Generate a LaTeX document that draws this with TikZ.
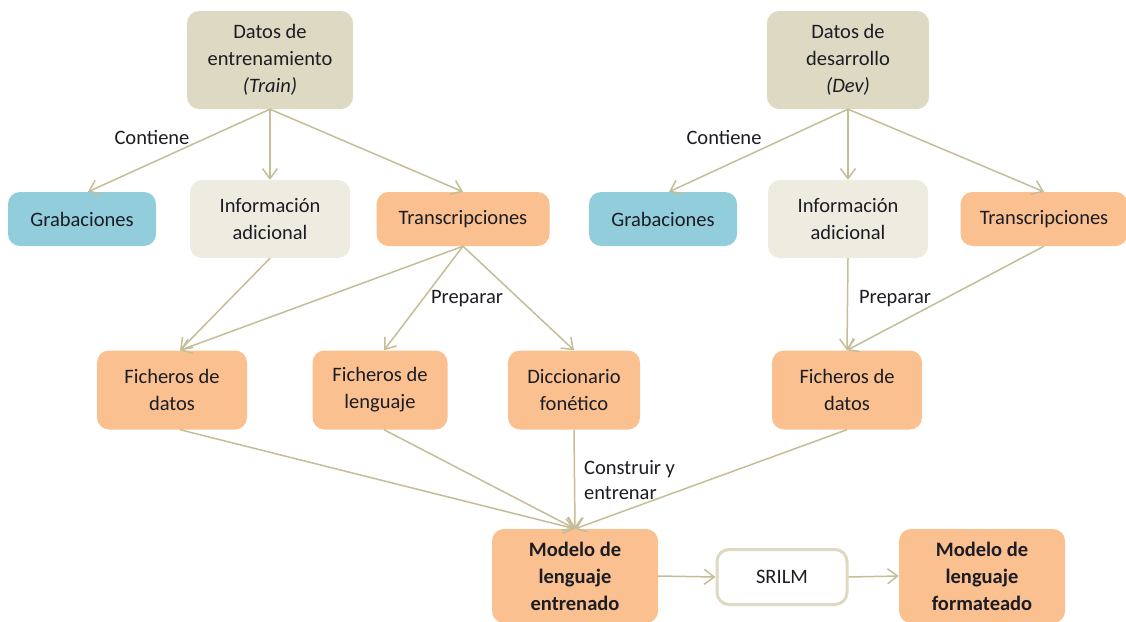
\documentclass[tikz,border=0pt]{standalone}
\usepackage{fontspec}
\setmainfont{Carlito}
\usetikzlibrary{arrows.meta}
\definecolor{beige}{RGB}{221,217,195}
\definecolor{cream}{RGB}{238,236,225}
\definecolor{peach}{RGB}{250,192,144}
\definecolor{skyblue}{RGB}{146,205,220}
\definecolor{linktan}{RGB}{196,189,151}
\definecolor{ink}{RGB}{28,28,36}
\tikzset{
  box/.style={rounded corners=12pt, align=center, text=ink, inner sep=0pt,
    font=\fontsize{20.5}{27}\selectfont},
  databox/.style={box, fill=beige},
  infobox/.style={box, fill=cream},
  filebox/.style={box, fill=peach},
  audiobox/.style={box, fill=skyblue},
  toolbox/.style={box, fill=white, draw=beige, line width=3pt},
  boldtext/.style={font=\fontsize{20.5}{27}\selectfont\bfseries},
  link/.style={draw=linktan, line width=1.5pt,
    -{Straight Barb[length=10pt,width=15pt,line width=1.5pt]}},
  note/.style={text=ink, font=\fontsize{20.5}{25}\selectfont, inner sep=0pt}
}
\begin{document}
\begin{tikzpicture}[x=1pt,y=-1pt]
\useasboundingbox (0,0) rectangle (1126,621);
\clip (0,0) rectangle (1126,621);

% training branch
\node[databox, minimum width=166pt, minimum height=98pt] (train) at (270,60)
  {Datos de\\entrenamiento\\\textit{(Train)}};
\node[audiobox, minimum width=148pt, minimum height=54pt] (grabL) at (82,219) {Grabaciones};
\node[infobox, minimum width=160pt, minimum height=78pt] (infoL) at (270,219) {Información\\adicional};
\node[filebox, minimum width=173pt, minimum height=54pt] (transL) at (463,219) {Transcripciones};

% development branch
\node[databox, minimum width=162pt, minimum height=98pt] (dev) at (848,60)
  {Datos de\\desarrollo\\\textit{(Dev)}};
\node[audiobox, minimum width=148pt, minimum height=54pt] (grabR) at (663,219) {Grabaciones};
\node[infobox, minimum width=160pt, minimum height=78pt] (infoR) at (848,219) {Información\\adicional};
\node[filebox, minimum width=167pt, minimum height=54pt] (transR) at (1044,219) {Transcripciones};

% prepared files
\node[filebox, minimum width=150pt, minimum height=79pt] (fdL) at (172,390) {Ficheros de\\datos};
\node[filebox, minimum width=135pt, minimum height=79pt] (fl) at (380,390) {Ficheros de\\lenguaje};
\node[filebox, minimum width=132pt, minimum height=79pt] (dic) at (574,390) {Diccionario\\fonético};
\node[filebox, minimum width=150pt, minimum height=79pt] (fdR) at (847,390) {Ficheros de\\datos};

% models
\node[filebox, boldtext, minimum width=166pt, minimum height=94pt] (model) at (575,576)
  {Modelo de\\lenguaje\\entrenado};
\node[toolbox, minimum width=130pt, minimum height=55pt] (srilm) at (782,577) {SRILM};
\node[filebox, boldtext, minimum width=166pt, minimum height=94pt] (fmt) at (982,576)
  {Modelo de\\lenguaje\\formateado};

% connectors
\draw[link] (train.south) -- ([xshift=6pt]grabL.north);
\draw[link] (train.south) -- (infoL.north);
\draw[link] (train.south) -- (transL.north);
\draw[link] (dev.south) -- ([xshift=6pt]grabR.north);
\draw[link] (dev.south) -- (infoR.north);
\draw[link] (dev.south) -- (transR.north);

\draw[link] (infoL.south) -- ([xshift=8pt]fdL.north);
\draw[link] (transL.south) -- ([xshift=8pt]fdL.north);
\draw[link] (transL.south) -- ([xshift=4pt]fl.north);
\draw[link] (transL.south) -- (dic.north);
\draw[link] (infoR.south) -- (fdR.north);
\draw[link] (transR.south) -- (fdR.north);

\draw[link] ([xshift=8pt]fdL.south) -- (model.north);
\draw[link] ([xshift=4pt]fl.south) -- (model.north);
\draw[link] (dic.south) -- (model.north);
\draw[link] (fdR.south) -- (model.north);

\draw[link] (model.east) -- (srilm.west);
\draw[link] (srilm.east) -- (fmt.west);

% edge notes
\node[note] (contL) at (152,137) {Contiene};
\node[note] (contR) at (724,137) {Contiene};
\node[note] (prepL) at (467,299) {Preparar};
\node[note] (prepR) at (895,299) {Preparar};
\node[note, anchor=west, align=left] (build) at (584,480) {Construir y\\entrenar};
\end{tikzpicture}
\end{document}
